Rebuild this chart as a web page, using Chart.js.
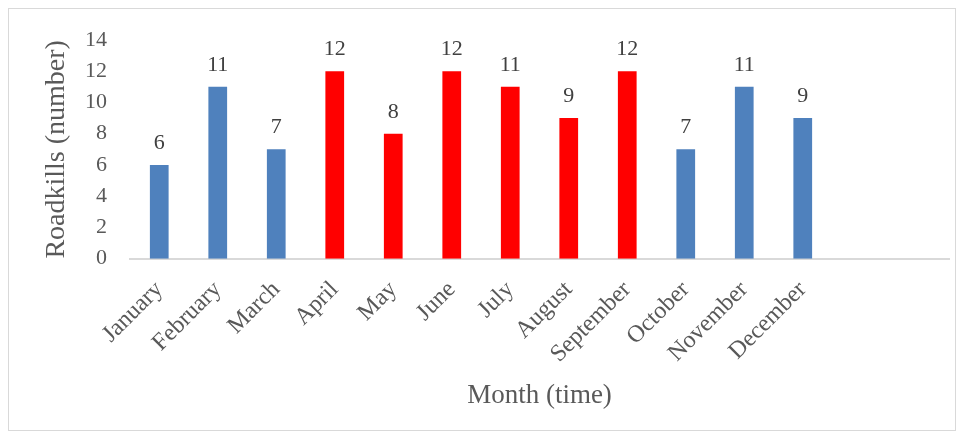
<!DOCTYPE html>
<html>
<head>
<meta charset="utf-8">
<script src="https://cdn.jsdelivr.net/npm/chart.js@4/dist/chart.umd.min.js"></script>
<style>
    body { margin: 0; background: #fff; }
    #frame {
        position: absolute; left: 8px; top: 8px;
        width: 946px; height: 421px;
        border: 1px solid #d9d9d9;
    }
    #wrap { position: absolute; left: 0; top: 0; width: 964px; height: 438px; }
</style>
</head>
<body>
<div id="frame"></div>
<div id="wrap"><canvas id="roadkillChart" width="964" height="438"></canvas></div>
<script>
// months, plus two empty slots Excel left on the axis
var months = ['January', 'February', 'March', 'April', 'May', 'June', 'July',
    'August', 'September', 'October', 'November', 'December', '', ''];
var roadkills = [6, 11, 7, 12, 8, 12, 11, 9, 12, 7, 11, 9, null, null];
var barColors = ['#4f81bd', '#4f81bd', '#4f81bd', '#ff0000', '#ff0000', '#ff0000',
    '#ff0000', '#ff0000', '#ff0000', '#4f81bd', '#4f81bd', '#4f81bd', '#4f81bd', '#4f81bd'];
var yTicks = [0, 2, 4, 6, 8, 10, 12, 14];

var fontFamily = '"Liberation Serif", "DejaVu Serif", serif';
var textColor = '#595959';

// value labels on top of the bars
var valueLabels = {
    id: 'valueLabels',
    afterDatasetsDraw: function (chart) {
        var ctx = chart.ctx;
        var meta = chart.getDatasetMeta(0);
        ctx.save();
        ctx.font = '22px ' + fontFamily;
        ctx.fillStyle = '#404040';
        ctx.textAlign = 'center';
        ctx.textBaseline = 'alphabetic';
        meta.data.forEach(function (bar, i) {
            if (roadkills[i] == null) return;
            ctx.fillText(roadkills[i], bar.x, bar.y - 16);
        });
        ctx.restore();
    }
};

new Chart(document.getElementById('roadkillChart'), {
    type: 'bar',
    data: {
        labels: months,
        datasets: [{
            data: roadkills,
            backgroundColor: barColors,
            categoryPercentage: 1,
            barPercentage: 0.32
        }]
    },
    options: {
        responsive: false,
        animation: false,
        events: [],
        layout: { padding: { left: 40, right: 15, top: 40, bottom: 26 } },
        plugins: {
            legend: { display: false },
            tooltip: { enabled: false }
        },
        scales: {
            x: {
                grid: { display: false },
                border: { color: '#d9d9d9', width: 2 },
                ticks: {
                    color: textColor,
                    font: { family: fontFamily, size: 24 },
                    minRotation: 45,
                    maxRotation: 45,
                    autoSkip: false,
                    padding: 9
                },
                // the rotated January label may hang left of the plot, like in Excel
                afterFit: function (axis) {
                    axis.paddingLeft = 0;
                },
                title: {
                    display: true,
                    text: 'Month (time)',
                    color: textColor,
                    font: { family: fontFamily, size: 27 },
                    padding: { top: 2, bottom: 0 }
                }
            },
            y: {
                min: 0,
                max: 14,
                grid: { display: false },
                border: { display: false },
                afterBuildTicks: function (axis) {
                    axis.ticks = yTicks.map(function (v) { return { value: v }; });
                },
                afterFit: function (axis) {
                    axis.width = 90;
                },
                ticks: {
                    color: textColor,
                    font: { family: fontFamily, size: 22 },
                    padding: 15
                },
                title: {
                    display: true,
                    text: 'Roadkills (number)',
                    color: textColor,
                    font: { family: fontFamily, size: 28 },
                    padding: { top: 0, bottom: 0 }
                }
            }
        }
    },
    plugins: [valueLabels]
});
</script>
</body>
</html>
